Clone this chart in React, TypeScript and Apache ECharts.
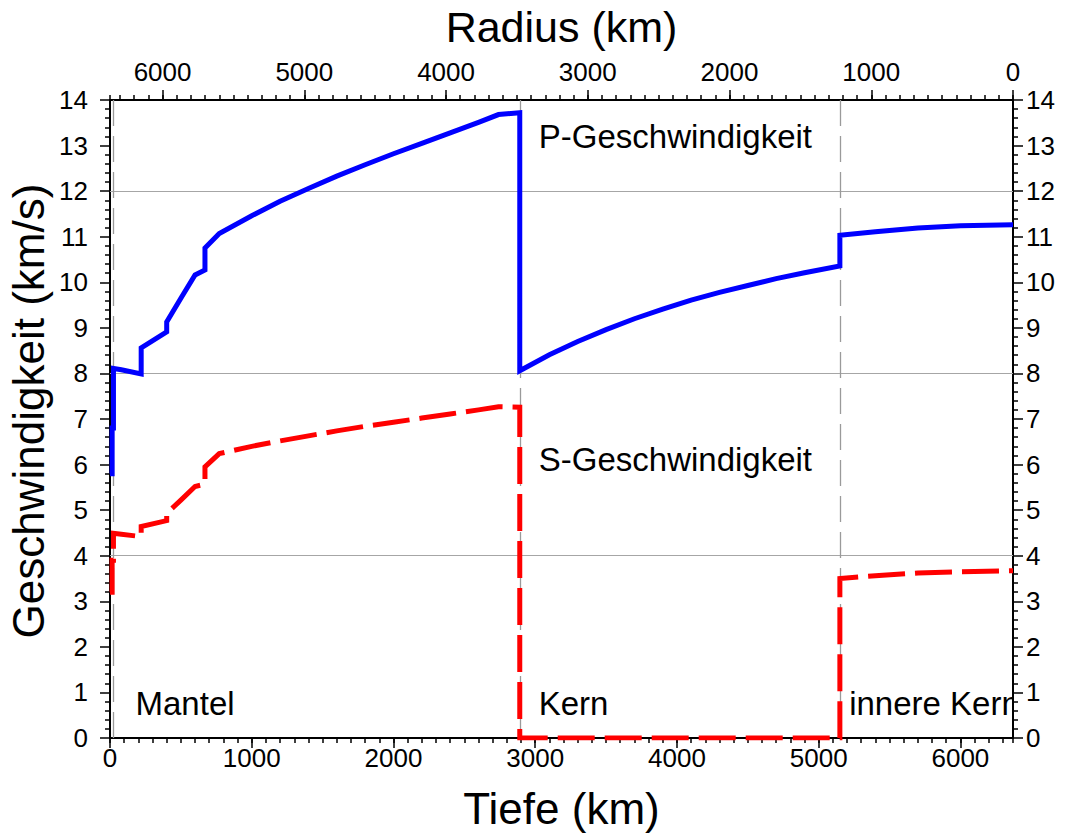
import { useEffect, useRef } from "react";
import * as echarts from "echarts";

const FONT = '"Liberation Sans", Arial, Helvetica, sans-serif';
const EARTH_RADIUS = 6371;

// PREM model nodes; repeated depths mark the discontinuities
const depthKm = [
  0, 15, 15, 24.4, 24.4, 80, 220, 220, 400, 400, 500, 600, 670, 670, 771,
  1000, 1200, 1400, 1600, 1800, 2000, 2200, 2400, 2600, 2741, 2891, 2891,
  3100, 3300, 3500, 3700, 3900, 4100, 4300, 4500, 4700, 4900, 5149.5, 5149.5,
  5400, 5700, 6000, 6371,
];
const vpKmS = [
  5.8, 5.8, 6.8, 6.8, 8.11, 8.08, 7.99, 8.56, 8.91, 9.13, 9.65, 10.16, 10.27, 10.75, 11.07,
  11.46, 11.78, 12.06, 12.33, 12.58, 12.82, 13.05, 13.28, 13.51, 13.68, 13.72, 8.06,
  8.41, 8.7, 8.96, 9.2, 9.41, 9.61, 9.78, 9.93, 10.08, 10.21, 10.36, 11.03,
  11.11, 11.19, 11.24, 11.26,
];
const vsKmS = [
  3.2, 3.2, 3.9, 3.9, 4.49, 4.47, 4.42, 4.64, 4.77, 4.93, 5.22, 5.52, 5.57, 5.95, 6.24,
  6.4, 6.52, 6.63, 6.74, 6.84, 6.93, 7.02, 7.11, 7.2, 7.27, 7.26, 0,
  0, 0, 0, 0, 0, 0, 0, 0, 0, 0, 0, 3.5,
  3.56, 3.62, 3.65, 3.67,
];

// Layer boundaries (Moho, core-mantle, inner-core) and reference velocity levels
const boundaryDepthKm = [24.4, 2891, 5149.5];
const gridVelocity = [4, 8, 12];

// Annotations anchored in data space
const regionLabels = ["Mantel", "Kern", "innere Kern", "P-Geschwindigkeit", "S-Geschwindigkeit"];
const labelDepthKm = [180, 3025, 5215, 3025, 3025];
const labelVelocity = [0.75, 0.75, 0.75, 13.19, 6.11];

const black = { color: "#000", width: 1.5 };
const plain = (v: number) => String(v);

function depthAxis(major: boolean, top: boolean) {
  return {
    type: "value",
    position: top ? "top" : "bottom",
    inverse: top,
    min: 0,
    max: EARTH_RADIUS,
    interval: major ? 1000 : 100,
    name: major ? (top ? "Radius (km)" : "Tiefe (km)") : "",
    nameLocation: "middle",
    nameGap: top ? 52 : 48,
    nameTextStyle: { fontSize: top ? 43 : 44, color: "#000", fontFamily: FONT },
    axisLine: { show: major, onZero: false, lineStyle: { color: "#000", width: 2 } },
    axisTick: { show: true, length: major ? 10 : 5, lineStyle: black },
    axisLabel: {
      show: major,
      margin: top ? 15 : 7,
      fontSize: 26,
      color: "#000",
      fontFamily: FONT,
      showMaxLabel: false,
      formatter: plain,
    },
    splitLine: { show: false },
  };
}

function velocityAxis(right: boolean) {
  return {
    type: "value",
    position: right ? "right" : "left",
    min: 0,
    max: 14,
    interval: 1,
    axisLine: { show: true, onZero: false, lineStyle: { color: "#000", width: 2 } },
    axisTick: { show: true, length: 10, lineStyle: black },
    minorTick: { show: true, splitNumber: 5, length: 5, lineStyle: black },
    axisLabel: { margin: right ? 13 : 22, fontSize: 26, color: "#000", fontFamily: FONT, formatter: plain },
    splitLine: { show: false },
    minorSplitLine: { show: false },
  };
}

export default function App() {
  const ref = useRef<HTMLDivElement>(null);

  useEffect(() => {
    document.body.style.margin = "0";
    if (!ref.current) return;
    const chart = echarts.init(ref.current, null, { renderer: "svg" });

    const pData = depthKm.map((d, i) => [d, vpKmS[i]]);
    const sData = depthKm.map((d, i) => [d, vsKmS[i]]);
    const labelData = regionLabels.map((_, i) => [labelDepthKm[i], labelVelocity[i]]);

    chart.setOption({
      animation: false,
      backgroundColor: "#fff",
      textStyle: { fontFamily: FONT },
      grid: { left: 110, right: 52, top: 100, bottom: 96, containLabel: false },
      xAxis: [depthAxis(true, false), depthAxis(false, false), depthAxis(true, true), depthAxis(false, true)],
      yAxis: [velocityAxis(false), velocityAxis(true)],
      graphic: [
        {
          type: "text",
          x: 28,
          y: 411,
          rotation: Math.PI / 2,
          silent: true,
          style: {
            text: "Geschwindigkeit (km/s)",
            font: `44px ${FONT}`,
            fill: "#000",
            align: "center",
            verticalAlign: "middle",
          },
        },
      ],
      series: [
        {
          name: "P-Geschwindigkeit",
          type: "line",
          xAxisIndex: 0,
          yAxisIndex: 0,
          data: pData,
          showSymbol: false,
          symbol: "none",
          lineStyle: { color: "#0000ff", width: 5, join: "miter" },
          z: 3,
          markLine: {
            silent: true,
            symbol: ["none", "none"],
            z: 1,
            label: { show: false },
            emphasis: { disabled: true },
            data: [
              ...gridVelocity.map((v) => ({
                yAxis: v,
                lineStyle: { color: "#a6a6a6", width: 1, type: "solid" },
              })),
              ...boundaryDepthKm.map((d) => ({
                xAxis: d,
                lineStyle: { color: "#9a9a9a", width: 1.3, type: [26, 10] },
              })),
            ],
          },
        },
        {
          name: "S-Geschwindigkeit",
          type: "line",
          xAxisIndex: 0,
          yAxisIndex: 0,
          data: sData,
          showSymbol: false,
          symbol: "none",
          lineStyle: { color: "#ff0000", width: 5, type: [37, 10], join: "miter" },
          z: 3,
        },
        {
          type: "custom",
          xAxisIndex: 0,
          yAxisIndex: 0,
          clip: true,
          silent: true,
          z: 4,
          data: labelData,
          renderItem: (params: any, api: any) => {
            const p = api.coord([api.value(0), api.value(1)]);
            return {
              type: "text",
              x: p[0],
              y: p[1],
              style: {
                text: regionLabels[params.dataIndex],
                font: `33px ${FONT}`,
                fill: "#000",
                align: "left",
                verticalAlign: "middle",
              },
            };
          },
        },
      ],
    });

    return () => chart.dispose();
  }, []);

  return <div ref={ref} style={{ width: 1065, height: 835 }} />;
}
